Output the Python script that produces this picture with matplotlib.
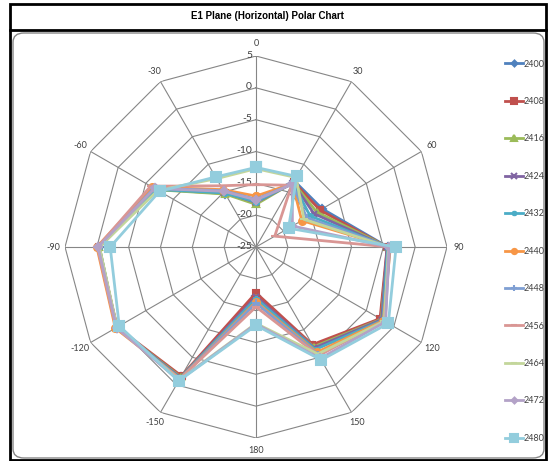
import numpy as np
import matplotlib
matplotlib.use("Agg")
import matplotlib.pyplot as plt
import matplotlib.transforms as mtransforms
from matplotlib.patches import Rectangle, FancyBboxPatch
from matplotlib.lines import Line2D

# angle categories (degrees), clockwise from top as in the Excel radar chart
angles = [0, 30, 60, 90, 120, 150, 180, -150, -120, -90, -60, -30]
r_ticks = [5, 0, -5, -10, -15, -20, -25]

# gain values (dB) per frequency channel
s2400 = [-17.8, -13.0, -13.0, -4.3, -2.4, -7.0, -17.3, -1.4, 0.3, -0.4, -6.9, -15.3]
s2408 = [-18.0, -13.2, -13.4, -4.4, -2.5, -7.3, -17.8, -1.6, 0.2, -0.3, -6.8, -15.2]
s2416 = [-18.3, -13.3, -14.0, -4.3, -2.3, -6.9, -17.0, -1.4, 0.3, -0.4, -7.0, -15.4]
s2424 = [-18.0, -13.4, -14.5, -4.4, -2.2, -6.7, -17.2, -1.3, 0.3, -0.2, -6.7, -15.1]
s2432 = [-17.9, -13.4, -15.2, -4.3, -2.0, -6.4, -16.9, -1.2, 0.3, -0.3, -6.9, -15.2]
s2440 = [-17.0, -13.5, -16.7, -3.9, -1.9, -5.9, -16.4, -1.1, 0.5, 0.0, -6.2, -14.6]
s2448 = [-17.5, -13.6, -15.8, -4.0, -1.6, -5.5, -16.2, -1.0, 0.3, -0.3, -6.5, -14.8]
s2456 = [-15.2, -13.8, -21.6, -4.0, -1.8, -5.3, -15.6, -1.1, 0.4, -0.1, -5.9, -13.9]
s2464 = [-12.7, -12.4, -16.3, -4.2, -1.7, -5.6, -13.0, -0.9, 0.2, -0.4, -7.2, -12.6]
s2472 = [-17.6, -13.6, -18.4, -4.1, -1.5, -4.8, -12.9, -0.8, 0.3, -0.2, -6.6, -14.9]
s2480 = [-12.5, -12.2, -19.1, -3.0, -1.0, -4.5, -12.7, -0.7, -0.2, -2.1, -7.5, -12.3]

labels = ["2400", "2408", "2416", "2424", "2432", "2440",
          "2448", "2456", "2464", "2472", "2480"]
series = [s2400, s2408, s2416, s2424, s2432, s2440,
          s2448, s2456, s2464, s2472, s2480]

colors = ["#4F81BD", "#C0504D", "#9BBB59", "#8064A2", "#4BACC6", "#F79646",
          "#7F9FD3", "#D99694", "#C3D69B", "#B3A2C7", "#93CDDD"]
markers = ["D", "s", "^", "x", (6, 2, 0), "o", "+", "_", "_", "D", "s"]
msizes = [4, 5, 5, 5, 5, 5, 6, 6, 6, 4, 7]

W, H = 548, 461
fig = plt.figure(figsize=(W / 100, H / 100), dpi=100)
fig.patch.set_facecolor("white")

# frame: outer black box, title separator, rounded gray chart area
fig.patches.append(Rectangle((10 / W, 1 - 460 / H), 536 / W, 456 / H,
                             transform=fig.transFigure, fill=False,
                             edgecolor="black", lw=2))
fig.lines.append(Line2D([10 / W, 546 / W], [1 - 30.5 / H, 1 - 30.5 / H],
                        transform=fig.transFigure, color="black", lw=2))
fig.patches.append(FancyBboxPatch((13 / W, 1 - 458 / H), 531 / W, 425 / H,
                                  boxstyle="round,pad=0,rounding_size=0.02",
                                  transform=fig.transFigure, fill=False,
                                  edgecolor="#868686", lw=1))
fig.text(267 / W, 1 - 16 / H, "E1 Plane (Horizontal) Polar Chart",
         ha="center", va="center", fontsize=7, fontweight="bold",
         family="Liberation Sans")

# polar axes centred at (256, 247) px with outer radius ~191 px
cx, cy, R = 256, 247, 191
ax = fig.add_axes([(cx - R) / W, 1 - (cy + R) / H, 2 * R / W, 2 * R / H],
                  projection="polar")
ax.set_theta_zero_location("N")
ax.set_theta_direction(-1)
ax.set_ylim(-25, 5)
ax.set_axis_off()

theta = np.deg2rad(angles)
theta_closed = np.append(theta, theta[0])

# polygon gridlines and spokes
grid_c = "#868686"
for rv in r_ticks[:-1]:
    ax.plot(theta_closed, [rv] * len(theta_closed), color=grid_c, lw=0.8,
            zorder=1)
for t in theta:
    ax.plot([t, t], [-25, 5], color=grid_c, lw=0.8, zorder=1)

# radial tick labels, nudged left of the 0 spoke
shift = mtransforms.offset_copy(ax.transData, fig=fig, x=-4, y=1,
                                units="dots")
for rv in r_ticks:
    ax.text(0, rv, str(rv), transform=shift, ha="right", va="center",
            fontsize=7.5, color="#404040", family="Lato")

# category labels
for a, t in zip(angles, theta):
    ax.text(t, 6.9, str(a), ha="center", va="center",
            fontsize=6.5, color="#404040", family="Lato")

handles = []
for lab, vals, c, m, ms in zip(labels, series, colors, markers, msizes):
    v = np.append(vals, vals[0])
    ln, = ax.plot(theta_closed, v, color=c, lw=2, marker=m, ms=ms,
                  mec=c, mfc=c, mew=1.5, label=lab, zorder=3,
                  clip_on=False)
    handles.append(ln)

leg = fig.legend(handles=handles, loc="upper left",
                 bbox_to_anchor=(500 / W, 1 - 55 / H), frameon=False,
                 fontsize=6.5, labelspacing=3.15, handlelength=2.0,
                 handletextpad=0.1, borderpad=0, markerscale=0.75)
for txt in leg.get_texts():
    txt.set_color("#404040")
    txt.set_family("Lato")

fig.savefig("out.png", dpi=100)
